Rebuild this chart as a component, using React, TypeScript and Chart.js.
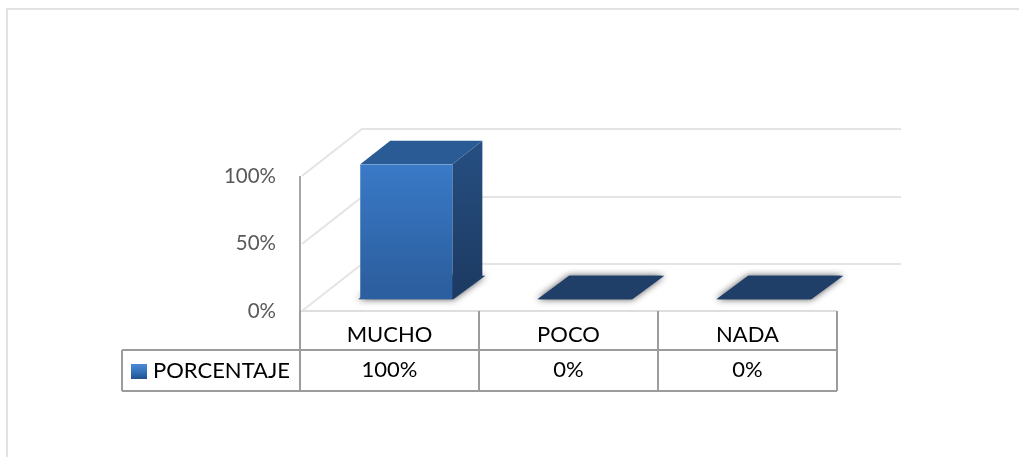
import React, { useEffect, useRef } from "react";
import { Chart, registerables } from "chart.js";

Chart.register(...registerables);

const categories = ["MUCHO", "POCO", "NADA"];
const seriesName = "PORCENTAJE";
const porcentaje = [100, 0, 0];
const yTicks = [0, 50, 100];

const FONT = "Lato, 'Open Sans', sans-serif";
const DEPTH_X = 60;
const DEPTH_Y = -47;
const BAR_INSET_X = 0.28;
const BAR_INSET_Y = 0.25;
const BAR_DEPTH = 0.5;

const wallsPlugin = {
  id: "walls",
  beforeDatasetsDraw(chart: any) {
    const { ctx, chartArea: a, scales } = chart;
    const y = scales.y;
    ctx.save();
    // chart frame
    ctx.strokeStyle = "#e2e2e2";
    ctx.lineWidth = 2;
    ctx.beginPath();
    ctx.moveTo(7, 457);
    ctx.lineTo(7, 9);
    ctx.lineTo(1019, 9);
    ctx.stroke();
    // back wall and side wall gridlines
    ctx.strokeStyle = "#e4e4e4";
    for (const t of yTicks) {
      const py = Math.round(y.getPixelForValue(t));
      ctx.beginPath();
      ctx.moveTo(a.left + 2, py);
      ctx.lineTo(a.left + DEPTH_X + 2, py + DEPTH_Y);
      ctx.lineTo(a.right + DEPTH_X + 4, py + DEPTH_Y);
      ctx.stroke();
    }
    // floor front edge
    ctx.strokeStyle = "#dedede";
    ctx.beginPath();
    ctx.moveTo(a.left, y.bottom);
    ctx.lineTo(a.right, y.bottom);
    ctx.stroke();
    // vertical axis line
    ctx.strokeStyle = "#a6a6a6";
    ctx.beginPath();
    ctx.moveTo(a.left, y.top);
    ctx.lineTo(a.left, y.bottom);
    ctx.stroke();
    ctx.restore();
  },
};

// Shifts the bars back onto the floor and extrudes a top and side face for each.
const extrudePlugin = {
  id: "extrude",
  beforeDatasetDraw(chart: any, args: any) {
    const { ctx } = chart;
    const meta = chart.getDatasetMeta(args.index);
    ctx.save();
    ctx.translate(DEPTH_X * BAR_INSET_X, DEPTH_Y * BAR_INSET_Y);
    const dx = DEPTH_X * BAR_DEPTH;
    const dy = DEPTH_Y * BAR_DEPTH;
    meta.data.forEach((bar: any) => {
      const { x, y, base, width } = bar.getProps(["x", "y", "base", "width"], true);
      const l = x - width / 2;
      const r = x + width / 2;
      // soft shadow on the floor
      ctx.save();
      ctx.shadowColor = "rgba(60,60,60,0.9)";
      ctx.shadowBlur = 7;
      ctx.fillStyle = "#1f3f68";
      ctx.beginPath();
      ctx.moveTo(l - 2, base);
      ctx.lineTo(r + 1, base);
      ctx.lineTo(r + dx + 3, base + dy);
      ctx.lineTo(l + dx, base + dy);
      ctx.closePath();
      ctx.fill();
      ctx.restore();
      // side face
      const side = ctx.createLinearGradient(0, y + dy, 0, base);
      side.addColorStop(0, "#264f82");
      side.addColorStop(1, "#1c3a61");
      ctx.fillStyle = side;
      ctx.beginPath();
      ctx.moveTo(r, y);
      ctx.lineTo(r + dx, y + dy);
      ctx.lineTo(r + dx, base + dy);
      ctx.lineTo(r, base);
      ctx.closePath();
      ctx.fill();
      // top face
      ctx.fillStyle = base - y < 1 ? "#1f3f68" : "#2a5b95";
      ctx.beginPath();
      ctx.moveTo(l, y);
      ctx.lineTo(r, y);
      ctx.lineTo(r + dx, y + dy);
      ctx.lineTo(l + dx, y + dy);
      ctx.closePath();
      ctx.fill();
    });
  },
  afterDatasetDraw(chart: any) {
    chart.ctx.restore();
  },
};

// Data table under the plot, with the series key in its first column.
const dataTablePlugin = {
  id: "dataTable",
  afterDraw(chart: any) {
    const { ctx, chartArea: a, scales } = chart;
    const top = scales.y.bottom;
    const mid = 350;
    const bottom = 391;
    const keyLeft = 122;
    const cell = (a.right - a.left) / categories.length;
    ctx.save();
    ctx.strokeStyle = "#9c9c9c";
    ctx.lineWidth = 2;
    ctx.beginPath();
    ctx.moveTo(keyLeft, mid);
    ctx.lineTo(a.right, mid);
    ctx.moveTo(keyLeft, bottom);
    ctx.lineTo(a.right, bottom);
    ctx.moveTo(keyLeft, mid);
    ctx.lineTo(keyLeft, bottom);
    for (let i = 0; i <= categories.length; i++) {
      ctx.moveTo(a.left + cell * i, top);
      ctx.lineTo(a.left + cell * i, bottom);
    }
    ctx.stroke();

    const swatch = ctx.createLinearGradient(0, 364, 0, 379);
    swatch.addColorStop(0, "#4a8ad8");
    swatch.addColorStop(0.6, "#2f6cb4");
    swatch.addColorStop(1, "#1f4f88");
    ctx.fillStyle = swatch;
    ctx.fillRect(131, 364, 16, 15);

    ctx.fillStyle = "#000000";
    ctx.font = `22px ${FONT}`;
    ctx.textBaseline = "middle";
    ctx.textAlign = "left";
    ctx.fillText(seriesName, 153, 371);
    ctx.textAlign = "center";
    porcentaje.forEach((v, i) => {
      ctx.fillText(`${v}%`, a.left + cell * (i + 0.5), 370);
    });
    ctx.restore();
  },
};

export default function App() {
  const ref = useRef<HTMLCanvasElement>(null);
  useEffect(() => {
    document.body.style.background = "#ffffff";
    const chart = new Chart(ref.current as HTMLCanvasElement, {
      type: "bar",
      data: {
        labels: categories,
        datasets: [
          {
            label: seriesName,
            data: porcentaje,
            barPercentage: 0.83,
            categoryPercentage: 0.62,
            backgroundColor: (c: any) => {
              const g = c.chart.ctx.createLinearGradient(0, 165, 0, 299);
              g.addColorStop(0, "#3b7ccb");
              g.addColorStop(1, "#2c5f9f");
              return g;
            },
            borderWidth: 0,
          },
        ],
      },
      options: {
        responsive: false,
        animation: false,
        layout: { padding: { left: 180, top: 176, right: 1019 - 837, bottom: 457 - 350 } },
        plugins: { legend: { display: false }, tooltip: { enabled: false } },
        scales: {
          x: {
            grid: { display: false },
            border: { display: false },
            afterFit: (axis: any) => {
              axis.height = 39;
            },
            ticks: { color: "#000000", font: { family: FONT, size: 22 }, padding: 3, maxRotation: 0 },
          },
          y: {
            min: 0,
            max: 100,
            afterBuildTicks: (axis: any) => {
              axis.ticks = yTicks.map((value) => ({ value }));
            },
            grid: { display: false },
            border: { display: false },
            afterFit: (axis: any) => {
              axis.width = 120;
            },
            ticks: {
              color: "#595959",
              font: { family: FONT, size: 20.5 },
              padding: 16,
              callback: (v: any) => `${v}%`,
            },
          },
        },
      },
      plugins: [wallsPlugin, extrudePlugin, dataTablePlugin],
    } as any);
    return () => chart.destroy();
  }, []);
  return (
    <canvas
      ref={ref}
      width={1019}
      height={457}
      style={{ position: "fixed", left: 0, top: 0, width: 1019, height: 457 }}
    />
  );
}
